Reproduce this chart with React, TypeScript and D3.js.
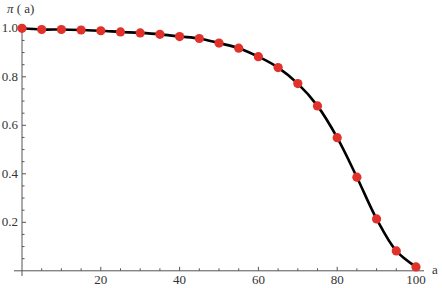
import React from "react";
import * as d3 from "d3";

const aValues = [0, 5, 10, 15, 20, 25, 30, 35, 40, 45, 50, 55, 60, 65, 70, 75, 80, 85, 90, 95, 100];
const piValues = [1.0, 0.995, 0.995, 0.993, 0.99, 0.985, 0.981, 0.975, 0.966, 0.958, 0.939, 0.918, 0.883, 0.838, 0.772, 0.68, 0.549, 0.386, 0.214, 0.082, 0.016];
const xMajor = [20, 40, 60, 80, 100];
const yMajor = [0.2, 0.4, 0.6, 0.8, 1.0];
const xMinor = d3.range(5, 101, 5).filter((v) => v % 20 !== 0);
const yMinor = d3.range(1, 21).map((i) => i * 0.05).filter((v) => Math.abs(v * 5 - Math.round(v * 5)) > 1e-6);

const FONT = "'Times New Roman', 'Liberation Serif', Tinos, 'DejaVu Serif', serif";

export default function App() {
  const W = 442, H = 288;
  const x = d3.scaleLinear().domain([0, 100]).range([22, 416]);
  const y = d3.scaleLinear().domain([0, 1]).range([270.8, 28.3]);
  const data = aValues.map((a, i) => [a, piValues[i]] as [number, number]);
  const line = d3.line<[number, number]>().x((d) => x(d[0])).y((d) => y(d[1])).curve(d3.curveCatmullRom.alpha(0.5));
  const axisColor = "#555";
  const x0 = x(0), y0 = y(0);
  const fs = 13;
  return (
    <svg width={W} height={H} style={{ position: "absolute", left: 0, top: 0, background: "#fff", fontFamily: FONT }}>
      <line x1={14} x2={424} y1={y0} y2={y0} stroke={axisColor} strokeWidth={1} />
      <line x1={x0} x2={x0} y1={24} y2={276} stroke={axisColor} strokeWidth={1} />
      {xMajor.map((v) => (
        <g key={"xm" + v}>
          <line x1={x(v)} x2={x(v)} y1={y0} y2={y0 - 4} stroke={axisColor} />
          <text x={x(v)} y={284} textAnchor="middle" fontSize={fs} fill="#333">{v}</text>
        </g>
      ))}
      {xMinor.map((v) => (
        <line key={"xn" + v} x1={x(v)} x2={x(v)} y1={y0} y2={y0 - 2.5} stroke={axisColor} />
      ))}
      {yMajor.map((v) => (
        <g key={"ym" + v}>
          <line x1={x0} x2={x0 + 4} y1={y(v)} y2={y(v)} stroke={axisColor} />
          <text x={18} y={y(v) + 4} textAnchor="end" fontSize={fs} fill="#333">{v.toFixed(1)}</text>
        </g>
      ))}
      {yMinor.map((v) => (
        <line key={"yn" + v} x1={x0} x2={x0 + 2.5} y1={y(v)} y2={y(v)} stroke={axisColor} />
      ))}
      <text x={7} y={13} fontSize={fs} fill="#333">
        <tspan fontStyle="italic">π</tspan> ( a)
      </text>
      <text x={432} y={274} fontSize={fs} fill="#333">a</text>
      <path d={line(data) || ""} fill="none" stroke="#000" strokeWidth={2.6} strokeLinejoin="round" />
      {data.map((d) => (
        <circle key={d[0]} cx={x(d[0])} cy={y(d[1])} r={4.6} fill="#e0312a" />
      ))}
    </svg>
  );
}
